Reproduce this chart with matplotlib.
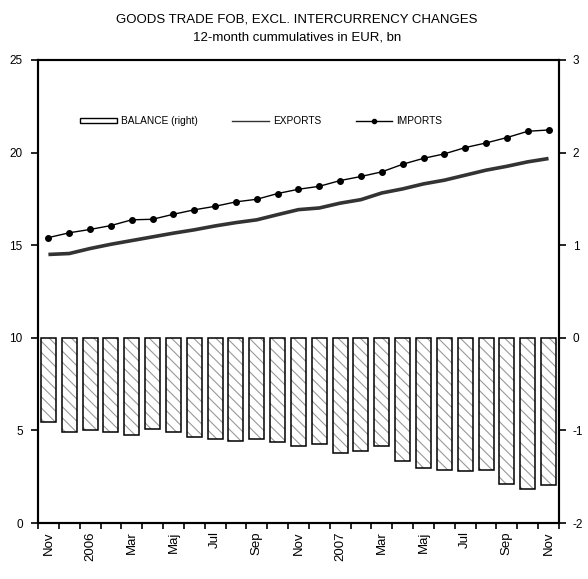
import matplotlib
matplotlib.use("Agg")
import matplotlib.pyplot as plt
import numpy as np
from matplotlib.patches import Patch
from matplotlib.lines import Line2D

plt.rcParams['font.family'] = ['Liberation Sans', 'DejaVu Sans']
plt.rcParams['hatch.linewidth'] = 0.8
plt.rcParams['axes.unicode_minus'] = False

# 12-month cumulatives, Nov 2005 - Nov 2007 (EUR bn)
months = ["Nov", "Dec", "2006", "Feb", "Mar", "Apr", "Maj", "Jun", "Jul", "Aug",
          "Sep", "Okt", "Nov", "Dec", "2007", "Feb", "Mar", "Apr", "Maj", "Jun",
          "Jul", "Aug", "Sep", "Okt", "Nov"]
exports = [14.50, 14.55, 14.82, 15.05, 15.25, 15.45, 15.65, 15.83, 16.04, 16.22,
           16.37, 16.65, 16.92, 17.01, 17.27, 17.46, 17.82, 18.04, 18.31, 18.51,
           18.78, 19.05, 19.26, 19.50, 19.68]
imports = [15.41, 15.67, 15.85, 16.06, 16.37, 16.40, 16.67, 16.91, 17.10, 17.34,
           17.48, 17.79, 18.02, 18.18, 18.49, 18.71, 18.96, 19.37, 19.69, 19.93,
           20.27, 20.52, 20.81, 21.15, 21.22]
balance = [-0.91, -1.02, -1.00, -1.02, -1.05, -0.98, -1.02, -1.07, -1.09, -1.11,
           -1.09, -1.13, -1.165, -1.15, -1.24, -1.22, -1.17, -1.335, -1.41, -1.43,
           -1.44, -1.425, -1.575, -1.63, -1.59]

x = np.arange(len(months))

fig = plt.figure(figsize=(5.88, 5.79), dpi=100)
ax = fig.add_axes([0.0646, 0.0967, 0.886, 0.7997])
ax2 = ax.twinx()

# lines on the left axis
ax.plot(x, exports, color="#333333", lw=2.6, solid_capstyle="butt")
ax.plot(x, imports, color="black", lw=1.0, marker="o", ms=4)
ax.set_ylim(0, 25)
ax.set_yticks([0, 5, 10, 15, 20, 25])
ax.set_xlim(-0.5, len(months) - 0.5)

# balance bars on the right axis: hatched fill, then the black outline
ax2.bar(x, balance, width=0.72, color="white", edgecolor="#999999",
        hatch="\\\\\\", linewidth=0)
ax2.bar(x, balance, width=0.72, fill=False, edgecolor="black", linewidth=1.1)
ax2.set_ylim(-2, 3)
ax2.set_yticks([-2, -1, 0, 1, 2, 3])

# category boundaries as ticks, every second month labelled
ax.set_xticks(np.arange(len(months) + 1) - 0.5)
ax.set_xticklabels([])
ax.set_xticks(x[::2], minor=True)
ax.set_xticklabels(months[::2], minor=True, rotation=90, fontsize=9.5)
ax.tick_params(axis="x", which="major", direction="out", length=4, width=1.2)
ax.tick_params(axis="x", which="minor", length=0, pad=6)
ax.tick_params(axis="y", direction="out", length=5, width=1.2, labelsize=8.5, pad=6)
ax2.tick_params(axis="y", direction="out", length=5, width=1.2, labelsize=8.5, pad=5)

for a in (ax, ax2):
    for s in a.spines.values():
        s.set_linewidth(1.5)

handles = [
    Patch(facecolor="white", edgecolor="black", linewidth=1.0),
    Line2D([], [], color="#333333", lw=1.0),
    Line2D([], [], color="black", lw=1.0, marker="o", ms=3),
]
labels = ["BALANCE (right)", "EXPORTS", "IMPORTS"]
ax2.legend(handles, labels, loc="center left", bbox_to_anchor=(0.064, 0.868),
           ncol=3, frameon=False, fontsize=7.3, handlelength=3.6,
           handleheight=0.45, columnspacing=3.4, handletextpad=0.4)

fig.text(0.505, 0.966, "GOODS TRADE FOB, EXCL. INTERCURRENCY CHANGES",
         ha="center", va="center", fontsize=9.5)
fig.text(0.505, 0.935, "12-month cummulatives in EUR, bn",
         ha="center", va="center", fontsize=9.5)

fig.savefig("out.png", dpi=100)
